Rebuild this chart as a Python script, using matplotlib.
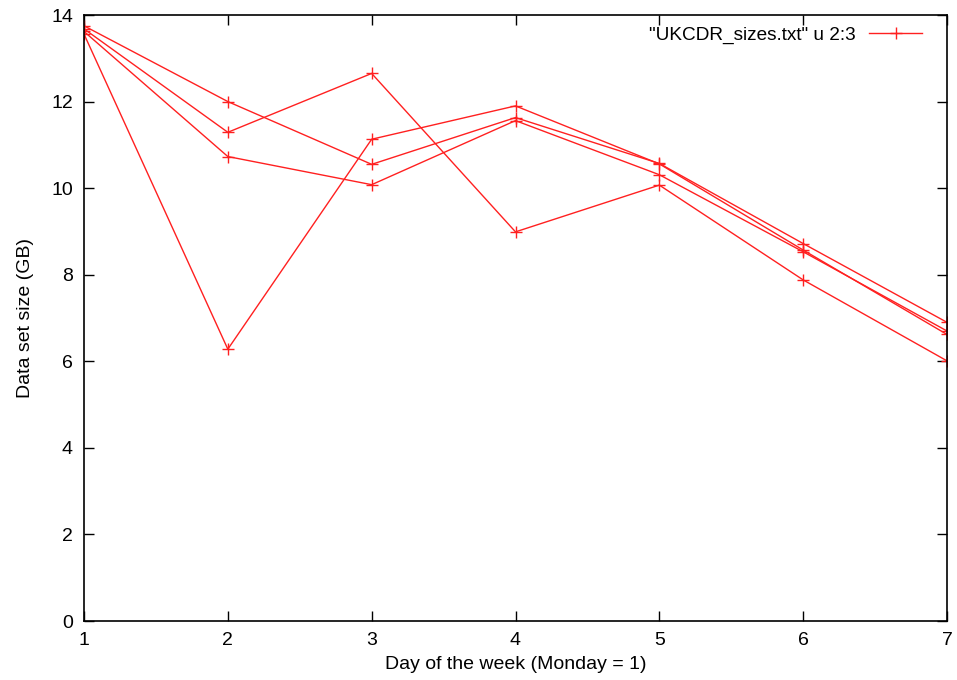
import matplotlib
matplotlib.use("Agg")
import matplotlib.pyplot as plt

days = [1, 2, 3, 4, 5, 6, 7]
week1 = [13.75, 12.00, 10.55, 11.63, 10.57, 8.72, 6.90]
week2 = [13.68, 11.29, 12.65, 8.99, 10.07, 7.88, 6.01]
week3 = [13.62, 10.73, 10.08, 11.56, 10.31, 8.53, 6.70]
week4 = [13.56, 6.28, 11.13, 11.90, 10.56, 8.57, 6.62]
weeks = [week1, week2, week3, week4]
legend_label = '"UKCDR_sizes.txt" u 2:3'
xticks = [1, 2, 3, 4, 5, 6, 7]
yticks = [0, 2, 4, 6, 8, 10, 12, 14]

plt.rcParams['font.family'] = ['Liberation Sans', 'DejaVu Sans']
fig = plt.figure(figsize=(9.57, 6.80), dpi=100)
ax = fig.add_axes([84/957, 59/680, (947-84)/957, (621-15)/680])

color = '#ff2020'
for i, w in enumerate(weeks):
    ax.plot(days, w, color=color, lw=1.0, marker='+', markersize=8,
            markeredgewidth=1.0, label=legend_label if i == 0 else None)

ax.set_xlim(1, 7)
ax.set_ylim(0, 14)
ax.set_xticks(xticks)
ax.set_yticks(yticks)
ax.tick_params(direction='in', length=7, width=1, top=True, right=True,
               labelsize=14, pad=8, colors='black')
for s in ax.spines.values():
    s.set_linewidth(1.2)
ax.set_xlabel('Day of the week (Monday = 1)', fontsize=14, labelpad=5)
ax.set_ylabel('Data set size (GB)', fontsize=14, labelpad=12)

leg = ax.legend(loc='upper right', frameon=False, markerfirst=False,
                handlelength=2.8, fontsize=13.7, borderaxespad=0.0,
                handletextpad=0.7, bbox_to_anchor=(1 - 17/863, 1 - 4/606))

fig.savefig('out.png', dpi=100)
